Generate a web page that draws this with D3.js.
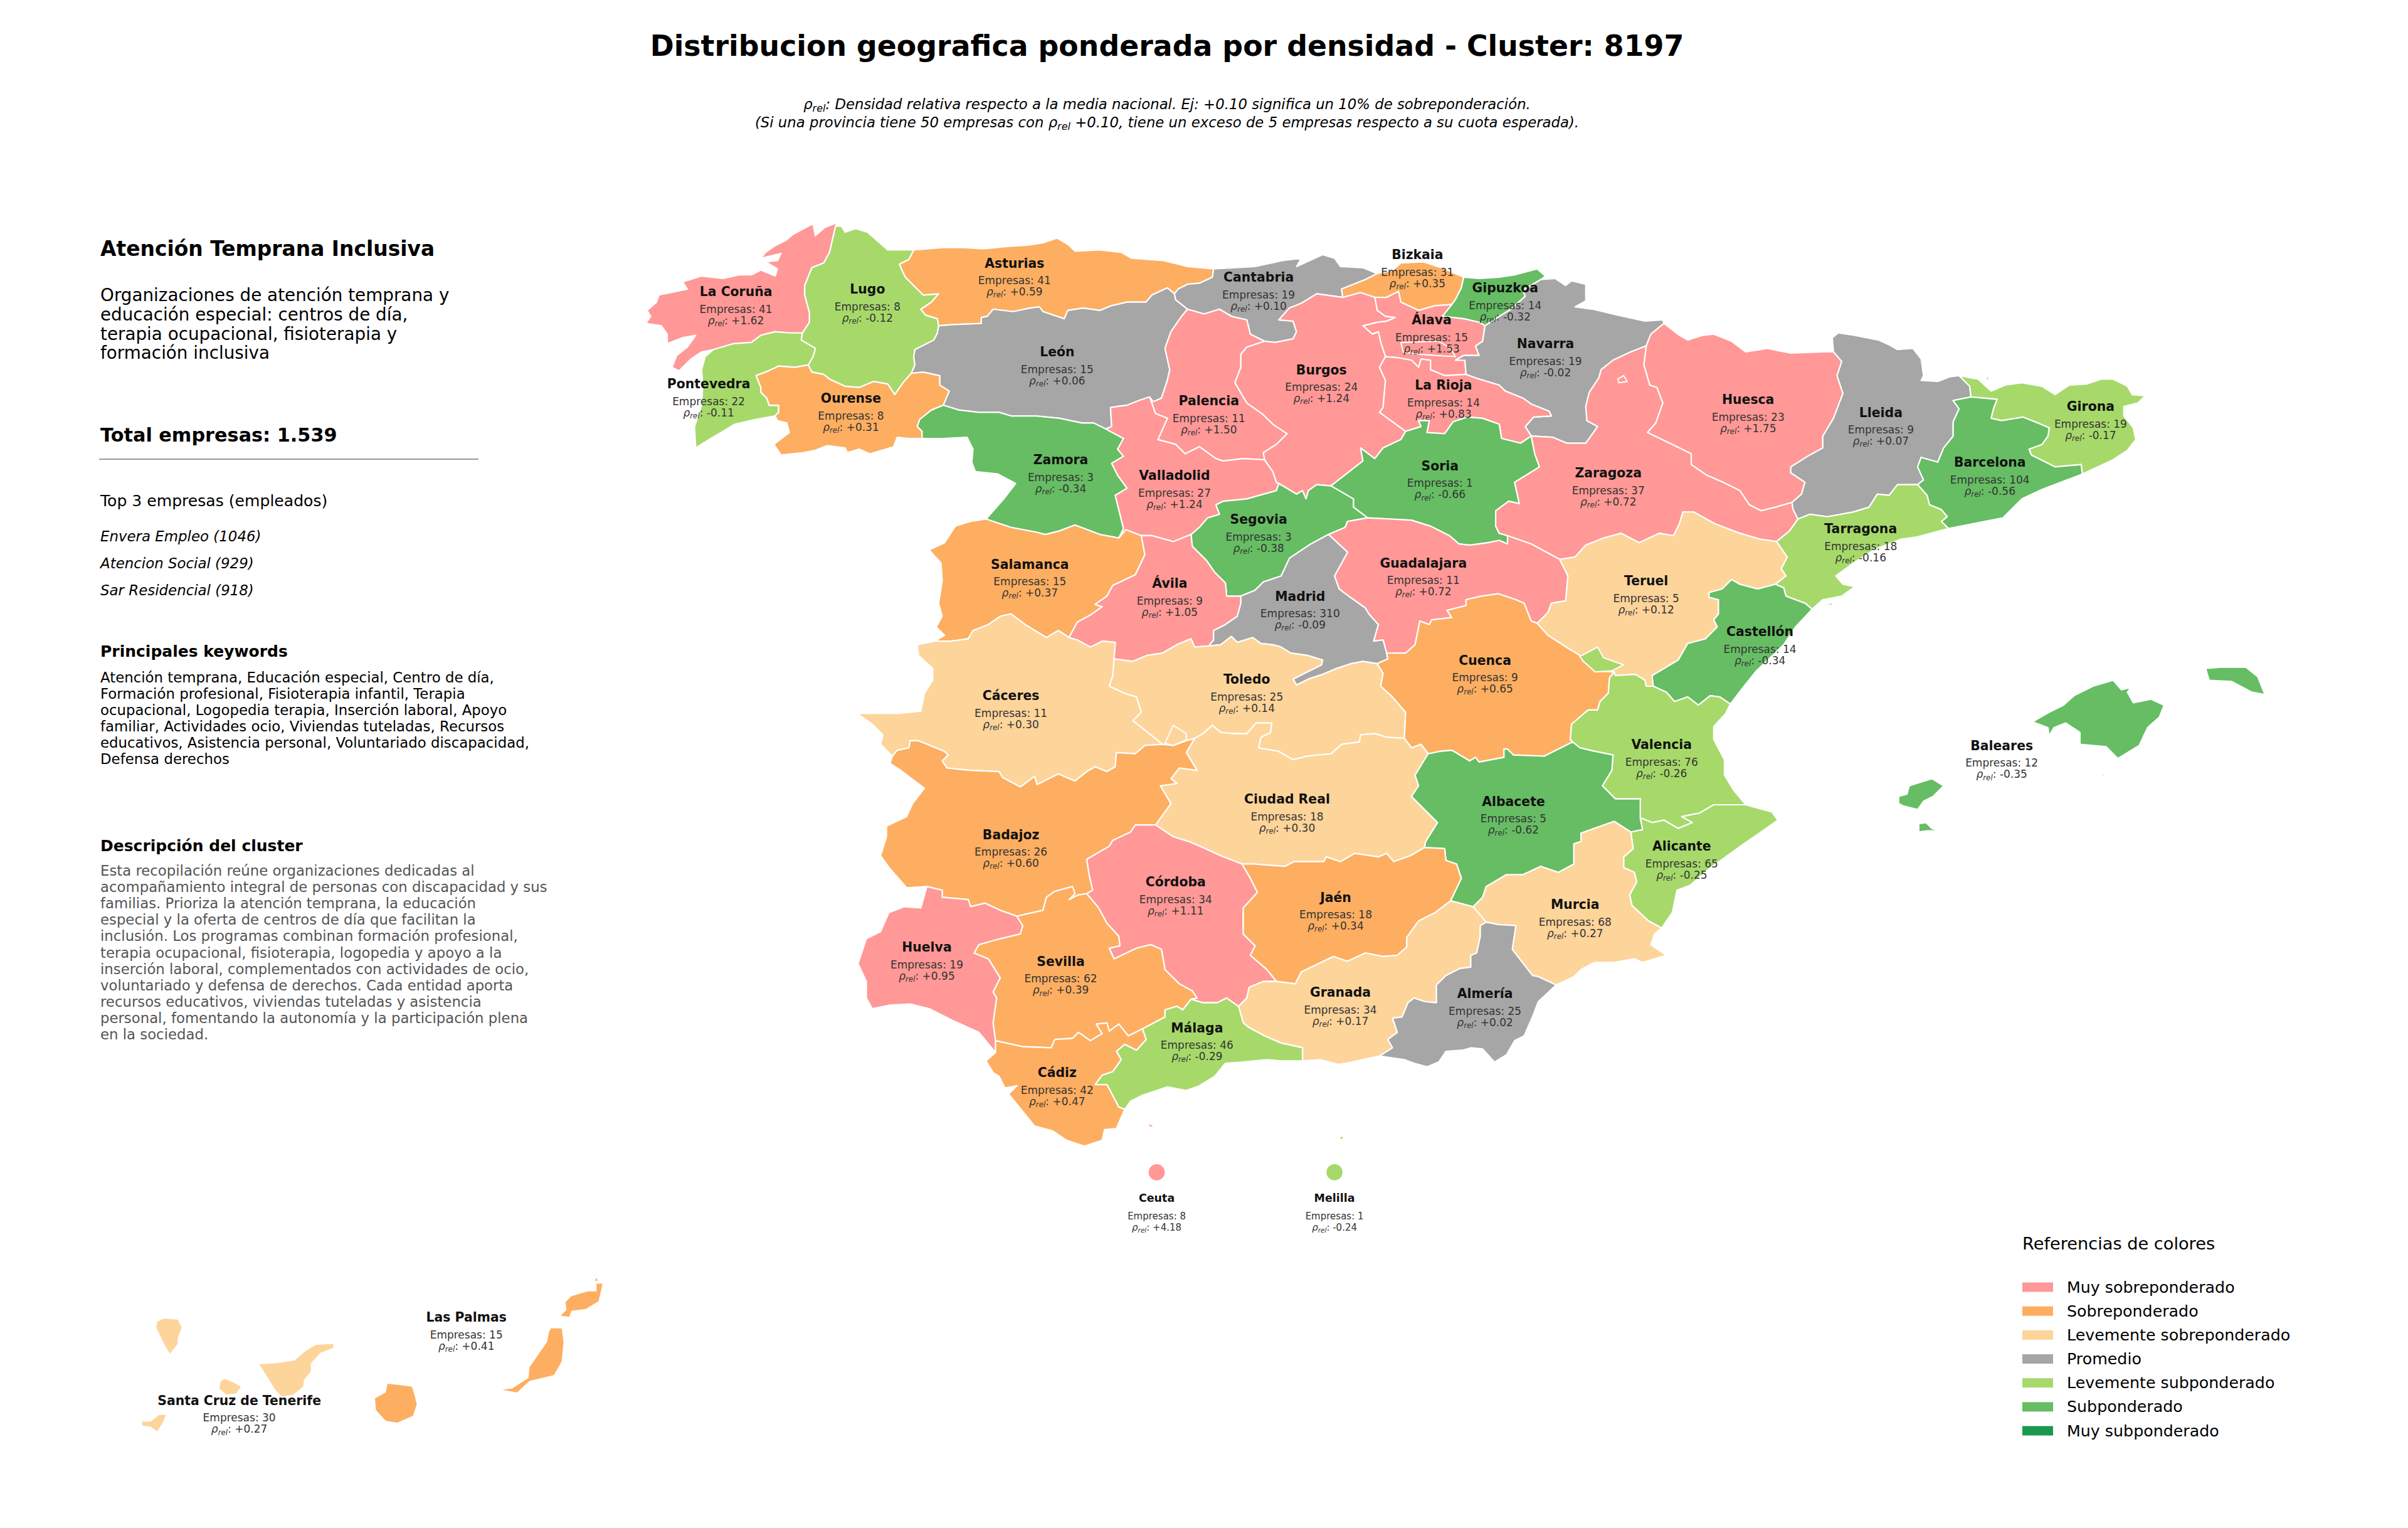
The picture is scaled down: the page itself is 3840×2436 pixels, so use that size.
<!DOCTYPE html>
<html>
<head>
<meta charset="utf-8">
<script src="https://cdnjs.cloudflare.com/ajax/libs/d3/7.8.5/d3.min.js"></script>
<style>
  html, body { margin: 0; padding: 0; background: #fff; }
  text { font-family: "DejaVu Sans", sans-serif; }
</style>
</head>
<body>
<div id="chart"></div>
<script>
// province values
const names = ["La Coruña","Lugo","Asturias","Pontevedra","Ourense","León","Cantabria","Palencia","Zamora","Valladolid","Salamanca","Bizkaia","Gipuzkoa","Álava","Navarra","Burgos","La Rioja","Huesca","Soria","Zaragoza","Segovia","Guadalajara","Teruel","Lleida","Girona","Barcelona","Tarragona","Castellón","Baleares","Ávila","Madrid","Cáceres","Toledo","Cuenca","Valencia","Ciudad Real","Albacete","Badajoz","Alicante","Córdoba","Jaén","Murcia","Huelva","Sevilla","Granada","Almería","Málaga","Cádiz","Ceuta","Melilla","Las Palmas","Santa Cruz de Tenerife"];
const empresas = [41,8,41,22,8,15,19,11,3,27,15,31,14,15,19,24,14,23,1,37,3,11,5,9,19,104,18,14,12,9,310,11,25,9,76,18,5,26,65,34,18,68,19,62,34,25,46,42,8,1,15,30];
const rhoRel = [1.62,-0.12,0.59,-0.11,0.31,0.06,0.10,1.50,-0.34,1.24,0.37,0.35,-0.32,1.53,-0.02,1.24,0.83,1.75,-0.66,0.72,-0.38,0.72,0.12,0.07,-0.17,-0.56,-0.16,-0.34,-0.35,1.05,-0.09,0.30,0.14,0.65,-0.26,0.30,-0.62,0.60,-0.25,1.11,0.34,0.27,0.95,0.39,0.17,0.02,-0.29,0.47,4.18,-0.24,0.41,0.27];

// legend
const legendLabels = ["Muy sobreponderado","Sobreponderado","Levemente sobreponderado","Promedio","Levemente subponderado","Subponderado","Muy subponderado"];
const legendColors = ["#ff9896","#fdae61","#fdd49a","#a6a6a6","#a6d96a","#66bd63","#1a9850"];
const rhoBreaks = [-0.7,-0.3,-0.1,0.105,0.305,0.7];

// side panel
const clusterTitle = "Atención Temprana Inclusiva";
const clusterLead = ["Organizaciones de atención temprana y","educación especial: centros de día,","terapia ocupacional, fisioterapia y","formación inclusiva"];
const totalLine = "Total empresas: 1.539";
const topHeader = "Top 3 empresas (empleados)";
const topEmpresas = ["Envera Empleo (1046)","Atencion Social (929)","Sar Residencial (918)"];
const keywordLines = ["Atención temprana, Educación especial, Centro de día,","Formación profesional, Fisioterapia infantil, Terapia","ocupacional, Logopedia terapia, Inserción laboral, Apoyo","familiar, Actividades ocio, Viviendas tuteladas, Recursos","educativos, Asistencia personal, Voluntariado discapacidad,","Defensa derechos"];
const descLines = ["Esta recopilación reúne organizaciones dedicadas al","acompañamiento integral de personas con discapacidad y sus","familias. Prioriza la atención temprana, la educación","especial y la oferta de centros de día que facilitan la","inclusión. Los programas combinan formación profesional,","terapia ocupacional, fisioterapia, logopedia y apoyo a la","inserción laboral, complementados con actividades de ocio,","voluntariado y defensa de derechos. Cada entidad aporta","recursos educativos, viviendas tuteladas y asistencia","personal, fomentando la autonomía y la participación plena","en la sociedad."];

// borders in lon/lat; each one shared by the provinces on both sides
const arcs = {
  cor_c: [[-7.70,43.76],[-7.685,43.79],[-7.79,43.75],[-7.87,43.68],[-7.89,43.78],[-7.97,43.74],[-8.06,43.69],[-8.12,43.64],[-8.22,43.59],[-8.29,43.54],[-8.33,43.49],[-8.16,43.53],[-8.19,43.47],[-8.29,43.46],[-8.19,43.40],[-8.21,43.34],[-8.33,43.39],[-8.41,43.35],[-8.51,43.35],[-8.65,43.32],[-8.83,43.34],[-8.99,43.29],[-8.95,43.23],[-9.09,43.20],[-9.19,43.18],[-9.21,43.12],[-9.29,43.05],[-9.26,43.00],[-9.30,42.94],[-9.17,42.92],[-9.12,42.85],[-9.12,42.77],[-8.99,42.82],[-8.88,42.84],[-8.95,42.74],[-9.04,42.67],[-9.08,42.57],[-9.02,42.54],[-8.92,42.64],[-8.83,42.70],[-8.73,42.72]],
  cor_lug: [[-7.70,43.76],[-7.75,43.54],[-7.80,43.45],[-7.90,43.41],[-7.96,43.26],[-7.96,43.18],[-7.92,43.03],[-7.92,42.95],[-7.98,42.86]],
  cor_pon: [[-7.98,42.86],[-8.09,42.86],[-8.21,42.87],[-8.33,42.84],[-8.41,42.78],[-8.56,42.77],[-8.73,42.72]],
  pon_lug: [[-7.98,42.86],[-7.99,42.80],[-7.87,42.73],[-7.89,42.66],[-7.93,42.59]],
  pon_our: [[-7.93,42.59],[-8.04,42.57],[-8.18,42.58],[-8.29,42.53],[-8.37,42.50],[-8.33,42.40],[-8.33,42.36],[-8.28,42.31],[-8.26,42.25],[-8.18,42.25],[-8.18,42.19],[-8.21,42.16]],
  pon_c: [[-8.21,42.16],[-8.38,42.13],[-8.55,42.09],[-8.65,42.03],[-8.77,41.96],[-8.88,41.89],[-8.89,42.07],[-8.83,42.25],[-8.82,42.42],[-8.83,42.55],[-8.80,42.66],[-8.73,42.72]],
  lug_c: [[-7.70,43.76],[-7.65,43.76],[-7.62,43.71],[-7.53,43.74],[-7.43,43.71],[-7.35,43.64],[-7.26,43.56],[-7.04,43.56]],
  lug_ast: [[-7.04,43.56],[-7.08,43.48],[-7.16,43.44],[-7.14,43.39],[-7.11,43.33],[-7.04,43.26],[-6.96,43.18],[-6.83,43.19],[-6.89,43.12],[-6.98,43.06],[-6.94,43.01],[-6.84,42.98],[-6.83,42.92]],
  lug_leo: [[-6.83,42.92],[-6.84,42.86],[-6.87,42.80],[-7.03,42.72],[-7.04,42.66],[-7.03,42.59],[-7.06,42.52]],
  lug_our: [[-7.06,42.52],[-7.13,42.44],[-7.20,42.34],[-7.26,42.43],[-7.38,42.45],[-7.50,42.40],[-7.62,42.41],[-7.75,42.47],[-7.80,42.51],[-7.90,42.53],[-7.93,42.59]],
  leo_our: [[-7.06,42.52],[-6.96,42.53],[-6.82,42.50],[-6.82,42.42],[-6.74,42.37],[-6.79,42.25]],
  our_zam: [[-6.79,42.25],[-6.89,42.21],[-6.99,42.13],[-7.01,42.07],[-6.97,42.03],[-6.97,41.97]],
  our_s: [[-6.97,41.97],[-7.08,41.97],[-7.18,41.98],[-7.21,41.90],[-7.41,41.84],[-7.50,41.88],[-7.60,41.85],[-7.62,41.89],[-7.77,41.91],[-7.87,41.87],[-7.97,41.85],[-8.16,41.83],[-8.22,41.92],[-8.09,42.02],[-8.11,42.10],[-8.19,42.12],[-8.21,42.16]],
  leo_zam: [[-6.79,42.25],[-6.66,42.21],[-6.49,42.19],[-6.32,42.19],[-6.22,42.16],[-6.01,42.16],[-5.81,42.14],[-5.62,42.10],[-5.52,42.10],[-5.42,42.05]],
  leo_val: [[-5.42,42.05],[-5.37,42.07],[-5.38,42.23],[-5.32,42.24],[-5.24,42.25],[-5.14,42.29],[-5.05,42.32]],
  leo_pal: [[-5.05,42.32],[-5.02,42.28],[-4.95,42.31],[-4.90,42.46],[-4.88,42.55],[-4.92,42.73],[-4.87,42.87],[-4.78,43.00],[-4.73,43.06]],
  leo_can: [[-4.73,43.06],[-4.83,43.14],[-4.84,43.19]],
  ast_leo: [[-4.84,43.19],[-4.90,43.24],[-5.03,43.18],[-5.08,43.12],[-5.24,43.12],[-5.37,43.09],[-5.47,43.05],[-5.61,43.07],[-5.74,43.05],[-5.77,42.98],[-5.95,43.04],[-5.98,43.08],[-6.06,43.07],[-6.20,43.04],[-6.37,43.06],[-6.42,43.00],[-6.47,42.99],[-6.47,42.94],[-6.72,42.93],[-6.83,42.92]],
  ast_c: [[-7.04,43.56],[-6.79,43.58],[-6.62,43.58],[-6.45,43.57],[-6.25,43.59],[-6.08,43.60],[-5.95,43.62],[-5.83,43.66],[-5.73,43.60],[-5.68,43.55],[-5.47,43.56],[-5.29,43.54],[-5.20,43.49],[-4.93,43.47],[-4.73,43.42],[-4.51,43.40]],
  ast_can: [[-4.51,43.40],[-4.52,43.33],[-4.63,43.28],[-4.73,43.27],[-4.81,43.23],[-4.84,43.19]],
  zam_val: [[-5.42,42.05],[-5.27,41.97],[-5.32,41.88],[-5.27,41.82],[-5.37,41.76],[-5.32,41.66],[-5.24,41.55],[-5.34,41.49],[-5.27,41.21],[-5.31,41.13]],
  zam_sal: [[-5.31,41.13],[-5.47,41.16],[-5.68,41.24],[-5.81,41.19],[-5.93,41.16],[-6.01,41.18],[-6.22,41.22],[-6.43,41.29]],
  zam_w: [[-6.43,41.29],[-6.28,41.46],[-6.18,41.59],[-6.33,41.67],[-6.52,41.69],[-6.55,41.77],[-6.54,41.88],[-6.59,41.98],[-6.79,41.97],[-6.97,41.97]],
  sal_w: [[-6.43,41.29],[-6.56,41.27],[-6.69,41.23],[-6.78,41.09],[-6.91,41.03],[-6.81,40.92],[-6.80,40.77],[-6.83,40.58],[-6.80,40.47],[-6.85,40.38],[-6.78,40.31],[-6.86,40.26]],
  sal_cac: [[-6.86,40.26],[-6.73,40.26],[-6.58,40.28],[-6.54,40.35],[-6.41,40.40],[-6.31,40.47],[-6.22,40.49],[-6.10,40.40],[-5.92,40.29],[-5.82,40.35],[-5.73,40.29]],
  sal_avi: [[-5.73,40.29],[-5.66,40.42],[-5.55,40.48],[-5.45,40.55],[-5.51,40.57],[-5.41,40.64],[-5.36,40.73],[-5.17,40.82],[-5.09,40.99],[-5.12,41.15]],
  sal_val: [[-5.12,41.15],[-5.25,41.20],[-5.31,41.13]],
  avi_val: [[-5.12,41.15],[-5.03,41.15],[-4.85,41.10],[-4.70,41.16]],
  avi_seg: [[-4.70,41.16],[-4.69,41.06],[-4.57,40.94],[-4.50,40.84],[-4.41,40.75],[-4.40,40.64],[-4.28,40.64]],
  avi_mad: [[-4.28,40.64],[-4.28,40.58],[-4.31,40.47],[-4.41,40.40],[-4.51,40.35],[-4.51,40.27],[-4.55,40.22]],
  avi_tol: [[-4.55,40.22],[-4.67,40.21],[-4.70,40.28],[-4.82,40.23],[-4.94,40.16],[-5.07,40.14],[-5.19,40.09],[-5.35,40.11]],
  avi_cac: [[-5.35,40.11],[-5.34,40.25],[-5.45,40.26],[-5.55,40.21],[-5.66,40.27],[-5.73,40.29]],
  cac_w: [[-7.22,39.29],[-7.32,39.39],[-7.30,39.47],[-7.39,39.56],[-7.52,39.65],[-7.17,39.65],[-6.98,39.67],[-6.95,39.82],[-6.88,39.93],[-6.88,40.03],[-7.00,40.14],[-7.01,40.23],[-6.86,40.26]],
  cac_bad: [[-7.22,39.29],[-7.18,39.34],[-7.08,39.36],[-7.07,39.42],[-7.00,39.42],[-6.78,39.33],[-6.75,39.30],[-6.80,39.25],[-6.76,39.19],[-6.56,39.17],[-6.32,39.16],[-6.29,39.11],[-6.14,39.03],[-6.02,39.12],[-6.00,39.05],[-5.82,39.14],[-5.68,39.08],[-5.58,39.16],[-5.51,39.20],[-5.41,39.16],[-5.34,39.20],[-5.33,39.32],[-5.17,39.31],[-5.09,39.38],[-4.94,39.39]],
  cac_tol: [[-5.35,40.11],[-5.36,39.97],[-5.39,39.88],[-5.26,39.82],[-5.16,39.79],[-5.12,39.66],[-5.19,39.59],[-5.04,39.47],[-4.94,39.39]],
  tol_bad: [[-4.94,39.39],[-4.85,39.38],[-4.74,39.42],[-4.67,39.44]],
  tol_cr: [[-4.67,39.44],[-4.60,39.48],[-4.52,39.55],[-4.45,39.49],[-4.33,39.48],[-4.23,39.48],[-4.15,39.57],[-4.02,39.57],[-4.03,39.49],[-4.11,39.45],[-4.13,39.36],[-3.96,39.33],[-3.84,39.26],[-3.72,39.29],[-3.52,39.31],[-3.43,39.39],[-3.28,39.41],[-3.27,39.47],[-3.15,39.48],[-3.05,39.45],[-2.90,39.44]],
  tol_cue: [[-2.90,39.44],[-2.89,39.66],[-3.01,39.80],[-3.10,39.88],[-3.08,39.99],[-3.13,40.07]],
  mad_tol: [[-4.55,40.22],[-4.45,40.23],[-4.36,40.30],[-4.31,40.25],[-4.18,40.29],[-4.11,40.24],[-4.01,40.23],[-3.94,40.21],[-3.86,40.16],[-3.72,40.14],[-3.59,40.10],[-3.60,40.06],[-3.72,40.00],[-3.84,39.94],[-3.81,39.89],[-3.71,39.94],[-3.59,39.98],[-3.47,40.03],[-3.35,40.07],[-3.25,40.09],[-3.13,40.07]],
  mad_cue: [[-3.13,40.07],[-3.04,40.11],[-3.05,40.16]],
  mad_gua: [[-3.05,40.16],[-3.08,40.27],[-3.16,40.26],[-3.12,40.40],[-3.20,40.49],[-3.23,40.54],[-3.37,40.64],[-3.45,40.70],[-3.49,40.81],[-3.38,41.01],[-3.54,41.16]],
  mad_seg: [[-3.54,41.16],[-3.69,41.08],[-3.87,40.96],[-3.94,40.81],[-4.09,40.76],[-4.16,40.69],[-4.28,40.64]],
  seg_gua: [[-3.54,41.16],[-3.40,41.22],[-3.38,41.27],[-3.21,41.30]],
  seg_sor: [[-3.21,41.30],[-3.33,41.39],[-3.33,41.46],[-3.52,41.57]],
  seg_bur: [[-3.52,41.57],[-3.64,41.58],[-3.71,41.53],[-3.73,41.46],[-3.76,41.53],[-3.81,41.50],[-3.96,41.59]],
  seg_val: [[-3.96,41.59],[-3.98,41.53],[-4.23,41.46],[-4.43,41.44],[-4.49,41.41],[-4.46,41.33],[-4.56,41.30],[-4.63,41.22],[-4.70,41.16]],
  val_pal: [[-5.05,42.32],[-5.00,42.18],[-4.90,42.14],[-4.98,41.96],[-4.83,41.92],[-4.75,41.84],[-4.63,41.90],[-4.49,41.80],[-4.43,41.78],[-4.26,41.80],[-4.08,41.79]],
  val_bur: [[-4.08,41.79],[-4.01,41.69],[-3.98,41.60],[-3.96,41.59]],
  pal_can: [[-4.73,43.06],[-4.59,43.02],[-4.46,43.06],[-4.36,43.00],[-4.23,42.97],[-4.20,42.85],[-4.08,42.79]],
  pal_bur: [[-4.08,42.79],[-4.23,42.74],[-4.28,42.68],[-4.28,42.57],[-4.33,42.44],[-4.23,42.27],[-4.09,42.17],[-4.01,42.09],[-3.89,42.01],[-3.98,41.92],[-4.09,41.85],[-4.08,41.79]],
  can_bur: [[-4.08,42.79],[-3.99,42.78],[-3.84,42.81],[-3.81,42.87],[-3.84,42.96],[-3.96,42.97],[-3.87,43.07],[-3.77,43.11],[-3.64,43.19],[-3.42,43.16]],
  can_c: [[-4.51,43.40],[-4.16,43.42],[-3.93,43.47],[-3.77,43.49],[-3.81,43.42],[-3.59,43.52],[-3.49,43.49],[-3.44,43.42],[-3.25,43.41],[-3.13,43.36]],
  can_biz: [[-3.42,43.16],[-3.43,43.23],[-3.23,43.31],[-3.13,43.36]],
  biz_c: [[-3.13,43.36],[-3.00,43.39],[-2.93,43.45],[-2.74,43.46],[-2.56,43.40],[-2.40,43.33]],
  biz_gip: [[-2.40,43.33],[-2.42,43.24],[-2.47,43.14],[-2.50,43.10]],
  biz_ala: [[-2.50,43.10],[-2.64,43.09],[-2.78,43.05],[-2.93,43.12],[-2.95,43.21],[-3.05,43.16],[-3.15,43.16]],
  bur_biz: [[-3.15,43.16],[-3.27,43.20],[-3.42,43.16]],
  gip_c: [[-2.40,43.33],[-2.27,43.32],[-2.10,43.33],[-1.97,43.35],[-1.78,43.40],[-1.71,43.34],[-1.75,43.31]],
  gip_nav: [[-1.75,43.31],[-1.90,43.22],[-1.88,43.17],[-2.00,43.06],[-2.10,43.00],[-2.22,42.92]],
  gip_ala: [[-2.50,43.10],[-2.58,43.00],[-2.40,42.98],[-2.27,42.95],[-2.22,42.92]],
  nav_n: [[-1.75,43.31],[-1.63,43.32],[-1.54,43.26],[-1.49,43.30],[-1.37,43.27],[-1.37,43.13],[-1.46,43.08],[-1.32,43.06],[-1.27,43.12],[-1.31,43.06],[-1.10,43.01],[-0.87,42.96],[-0.72,42.97],[-0.71,42.94]],
  nav_hue: [[-0.71,42.94],[-0.82,42.85],[-0.86,42.75]],
  nav_zar: [[-0.86,42.75],[-0.99,42.70],[-1.14,42.63],[-1.24,42.55],[-1.26,42.48],[-1.34,42.36],[-1.37,42.24],[-1.36,42.12],[-1.27,42.07],[-1.37,41.93],[-1.53,41.93],[-1.65,41.98],[-1.83,41.99]],
  nav_rio: [[-1.83,41.99],[-1.88,42.07],[-1.81,42.15],[-1.66,42.16],[-1.68,42.20],[-1.83,42.26],[-1.90,42.31],[-2.05,42.37],[-2.10,42.42],[-2.30,42.48],[-2.38,42.51]],
  ala_nav: [[-2.38,42.51],[-2.39,42.63],[-2.47,42.63],[-2.40,42.67],[-2.27,42.67],[-2.30,42.75],[-2.24,42.79],[-2.22,42.92]],
  ala_rio: [[-2.38,42.51],[-2.56,42.50],[-2.68,42.55],[-2.68,42.63],[-2.76,42.64],[-2.78,42.57],[-2.84,42.63],[-2.95,42.65],[-3.06,42.66]],
  bur_ala: [[-3.15,43.16],[-3.13,43.05],[-3.06,43.00],[-2.98,42.99],[-3.05,42.96],[-3.13,42.95],[-3.25,42.92],[-3.17,42.85],[-3.12,42.87],[-3.10,42.78],[-3.06,42.66]],
  bur_rio: [[-3.06,42.66],[-3.11,42.57],[-3.06,42.46],[-3.08,42.23],[-3.11,42.19],[-2.89,42.03]],
  bur_sor: [[-2.89,42.03],[-2.93,41.96],[-3.08,41.89],[-3.15,41.80],[-3.27,41.89],[-3.25,41.78],[-3.52,41.57]],
  rio_sor: [[-2.89,42.03],[-2.76,42.07],[-2.78,42.12],[-2.69,42.12],[-2.71,42.02],[-2.56,42.01],[-2.49,42.11],[-2.37,42.15],[-2.24,42.14],[-2.10,42.09],[-2.08,41.97],[-1.92,41.93],[-1.83,41.99]],
  sor_zar: [[-1.83,41.99],[-1.80,41.84],[-1.76,41.73],[-1.97,41.60],[-1.93,41.42],[-2.02,41.44],[-2.13,41.36],[-2.13,41.23],[-2.10,41.17],[-2.03,41.15]],
  sor_gua: [[-2.03,41.15],[-2.03,41.08],[-2.10,41.11],[-2.20,41.09],[-2.35,41.07],[-2.44,41.08],[-2.52,41.15],[-2.68,41.23],[-2.84,41.28],[-3.01,41.29],[-3.21,41.30]],
  gua_zar: [[-2.03,41.15],[-1.83,41.08],[-1.59,40.95]],
  gua_ter: [[-1.59,40.95],[-1.52,40.81],[-1.54,40.60],[-1.66,40.58],[-1.69,40.50],[-1.78,40.41]],
  gua_cue: [[-3.05,40.16],[-2.89,40.16],[-2.81,40.23],[-2.77,40.43],[-2.69,40.40],[-2.67,40.44],[-2.50,40.46],[-2.54,40.52],[-2.38,40.56],[-2.38,40.61],[-2.25,40.64],[-2.11,40.66],[-1.96,40.61],[-1.89,40.58],[-1.83,40.43],[-1.78,40.41]],
  ter_zar: [[-1.59,40.95],[-1.46,40.97],[-1.37,41.07],[-1.22,41.13],[-1.07,41.17],[-0.92,41.09],[-0.75,41.17],[-0.63,41.15],[-0.58,41.25],[-0.55,41.35],[-0.46,41.35],[-0.28,41.25],[-0.07,41.17],[0.10,41.12],[0.24,41.10]],
  zar_tar: [[0.24,41.10],[0.35,41.19],[0.42,41.29]],
  zar_lle: [[0.42,41.29],[0.38,41.37],[0.37,41.43]],
  hue_zar: [[0.37,41.43],[0.23,41.39],[0.11,41.36],[0.01,41.41],[-0.07,41.53],[-0.21,41.60],[-0.35,41.66],[-0.48,41.75],[-0.48,41.84],[-0.60,41.90],[-0.85,42.02],[-0.78,42.10],[-0.72,42.27],[-0.77,42.40],[-0.83,42.42],[-0.88,42.59],[-0.86,42.75]],
  hue_n: [[-0.71,42.94],[-0.58,42.84],[-0.51,42.80],[-0.38,42.84],[-0.29,42.85],[-0.14,42.79],[-0.02,42.70],[0.16,42.73],[0.36,42.69],[0.64,42.70],[0.72,42.70]],
  hue_lle: [[0.72,42.70],[0.79,42.62],[0.75,42.50],[0.80,42.35],[0.72,42.14],[0.63,41.99],[0.63,41.89],[0.52,41.83],[0.36,41.73],[0.36,41.68],[0.48,41.60],[0.45,41.50],[0.37,41.43]],
  lle_n: [[0.72,42.70],[0.71,42.82],[0.76,42.86],[0.90,42.84],[1.10,42.80],[1.19,42.76],[1.26,42.72],[1.39,42.73],[1.46,42.64],[1.48,42.50],[1.46,42.46],[1.60,42.45],[1.70,42.49],[1.78,42.50]],
  lle_gir: [[1.78,42.50],[1.87,42.41],[1.88,42.32]],
  lle_bar: [[1.88,42.32],[1.73,42.29],[1.78,42.22],[1.73,42.11],[1.73,41.99],[1.65,41.89],[1.60,41.77],[1.46,41.81],[1.43,41.73],[1.48,41.62],[1.43,41.58]],
  lle_tar: [[1.43,41.58],[1.26,41.58],[1.19,41.49],[1.09,41.50],[1.02,41.39],[0.89,41.35],[0.67,41.31],[0.52,41.33],[0.42,41.29]],
  gir_c: [[1.78,42.50],[1.94,42.47],[2.05,42.37],[2.17,42.42],[2.31,42.44],[2.48,42.41],[2.59,42.34],[2.71,42.42],[2.86,42.43],[2.98,42.47],[3.08,42.47],[3.20,42.41],[3.24,42.34],[3.35,42.33],[3.29,42.27],[3.17,42.24],[3.17,42.16],[3.25,42.06],[3.27,41.96],[3.20,41.87],[3.08,41.79],[2.95,41.73],[2.82,41.67]],
  gir_bar: [[1.88,42.32],[2.10,42.30],[2.07,42.22],[2.05,42.14],[2.14,42.12],[2.32,42.15],[2.42,42.11],[2.54,42.06],[2.53,41.99],[2.48,41.92],[2.37,41.88],[2.39,41.83],[2.59,41.73],[2.81,41.75],[2.82,41.67]],
  bar_c: [[2.82,41.67],[2.48,41.54],[2.31,41.46],[2.15,41.30],[1.69,41.21]],
  bar_tar: [[1.69,41.21],[1.63,41.27],[1.68,41.31],[1.63,41.37],[1.53,41.41],[1.51,41.49],[1.43,41.58]],
  tar_c: [[1.69,41.21],[1.43,41.14],[1.29,41.12],[1.06,41.03],[0.89,40.92],[0.74,40.81],[0.80,40.74],[0.90,40.72],[0.79,40.64],[0.63,40.61],[0.54,40.53]],
  ter_tar: [[0.24,41.10],[0.33,40.97],[0.28,40.87],[0.32,40.81],[0.23,40.74]],
  tar_cas: [[0.23,40.74],[0.30,40.71],[0.32,40.64],[0.48,40.58],[0.54,40.53]],
  cas_c: [[0.54,40.53],[0.40,40.38],[0.30,40.23],[0.07,40.01],[-0.05,39.86],[-0.15,39.73]],
  ter_cas: [[0.23,40.74],[0.08,40.70],[-0.07,40.74],[-0.14,40.78],[-0.22,40.70],[-0.33,40.67],[-0.33,40.63],[-0.25,40.61],[-0.25,40.49],[-0.29,40.44],[-0.26,40.38],[-0.36,40.28],[-0.51,40.24],[-0.59,40.10],[-0.81,39.97],[-0.80,39.88]],
  cas_val: [[-0.80,39.88],[-0.69,39.83],[-0.62,39.75],[-0.51,39.79],[-0.42,39.72],[-0.32,39.80],[-0.24,39.79],[-0.15,39.73]],
  ter_val: [[-1.13,40.00],[-1.12,39.97],[-0.95,39.98],[-0.87,39.93],[-0.86,39.88],[-0.80,39.88]],
  cue_ter: [[-1.78,40.41],[-1.69,40.31],[-1.52,40.20],[-1.42,40.14],[-1.39,40.09],[-1.29,40.01],[-1.13,40.00]],
  cue_val: [[-1.13,40.00],[-1.17,39.95],[-1.18,39.82],[-1.25,39.75],[-1.27,39.68],[-1.35,39.68],[-1.49,39.56],[-1.50,39.43],[-1.48,39.41]],
  cue_alb: [[-1.48,39.41],[-1.72,39.29],[-1.98,39.30],[-2.03,39.35],[-2.06,39.35],[-2.06,39.28],[-2.27,39.24],[-2.30,39.28],[-2.35,39.25],[-2.50,39.34],[-2.60,39.33],[-2.70,39.31]],
  cr_cue: [[-2.90,39.44],[-2.84,39.36],[-2.76,39.39],[-2.70,39.31]],
  cr_alb: [[-2.70,39.31],[-2.81,39.13],[-2.78,39.04],[-2.84,38.95],[-2.62,38.73],[-2.72,38.57],[-2.73,38.52]],
  cr_jae: [[-2.73,38.52],[-2.85,38.45],[-2.99,38.40],[-3.05,38.47],[-3.12,38.44],[-3.32,38.47],[-3.44,38.40],[-3.56,38.44],[-3.58,38.40],[-3.83,38.40],[-3.91,38.36],[-4.17,38.38],[-4.27,38.38]],
  cr_cor: [[-4.27,38.38],[-4.45,38.45],[-4.58,38.51],[-4.72,38.57],[-4.85,38.61],[-5.00,38.71]],
  bad_cr: [[-5.00,38.71],[-4.87,38.89],[-4.96,39.04],[-4.82,39.06],[-4.87,39.10],[-4.80,39.19],[-4.65,39.17],[-4.74,39.32],[-4.67,39.44]],
  bad_w: [[-7.22,39.29],[-7.24,39.23],[-7.15,39.17],[-6.95,39.02],[-7.05,38.89],[-7.10,38.78],[-7.27,38.70],[-7.27,38.61],[-7.32,38.45],[-7.24,38.34],[-7.10,38.18],[-6.93,38.19]],
  bad_hue: [[-6.93,38.19],[-6.80,38.16],[-6.80,38.10],[-6.58,38.08],[-6.56,38.02],[-6.44,38.05],[-6.31,37.99],[-6.17,37.94]],
  bad_sev: [[-6.17,37.94],[-5.95,37.99],[-5.92,38.10],[-5.85,38.15],[-5.70,38.19],[-5.68,38.13],[-5.73,38.08],[-5.65,38.12],[-5.58,38.13]],
  bad_cor: [[-5.58,38.13],[-5.53,38.16],[-5.56,38.29],[-5.58,38.42],[-5.39,38.53],[-5.36,38.58],[-5.21,38.65],[-5.17,38.71],[-5.00,38.71]],
  hue_c: [[-6.93,38.19],[-6.98,38.01],[-7.12,38.02],[-7.25,37.97],[-7.32,37.81],[-7.44,37.75],[-7.51,37.54],[-7.44,37.39],[-7.44,37.25],[-7.39,37.16],[-7.24,37.19],[-7.07,37.20],[-6.91,37.16],[-6.71,37.06],[-6.49,36.96],[-6.35,36.79]],
  hue_sev: [[-6.17,37.94],[-6.12,37.86],[-6.14,37.79],[-6.31,37.75],[-6.49,37.70],[-6.53,37.63],[-6.41,37.58],[-6.31,37.42],[-6.37,37.30],[-6.34,37.25],[-6.37,37.04],[-6.35,36.89]],
  hue_cad: [[-6.35,36.89],[-6.35,36.79]],
  sev_cad: [[-6.35,36.89],[-6.12,36.84],[-5.88,36.83],[-5.85,36.90],[-5.70,36.91],[-5.65,36.96],[-5.55,36.89],[-5.45,36.95],[-5.50,37.03],[-5.41,37.04],[-5.39,36.97],[-5.31,37.03],[-5.23,36.93],[-5.11,36.99]],
  sev_mal: [[-5.11,36.99],[-4.92,37.09],[-4.92,37.15],[-4.82,37.18],[-4.77,37.15],[-4.70,37.24]],
  sev_cor: [[-5.58,38.13],[-5.48,38.01],[-5.41,37.88],[-5.31,37.77],[-5.30,37.69],[-5.39,37.67],[-5.35,37.58],[-5.16,37.67],[-5.04,37.70],[-4.95,37.66],[-4.92,37.49],[-4.80,37.37],[-4.69,37.31],[-4.65,37.25],[-4.70,37.24]],
  cor_mal: [[-4.70,37.24],[-4.60,37.21],[-4.48,37.21],[-4.40,37.25],[-4.30,37.18]],
  cor_gra: [[-4.30,37.18],[-4.23,37.25],[-4.21,37.34],[-4.09,37.39],[-3.98,37.39]],
  cor_jae: [[-3.98,37.39],[-4.06,37.49],[-4.20,37.61],[-4.16,37.69],[-4.26,37.79],[-4.26,38.01],[-4.14,38.14],[-4.20,38.26],[-4.27,38.38]],
  jae_gra: [[-3.98,37.39],[-3.82,37.37],[-3.77,37.47],[-3.50,37.60],[-3.38,37.56],[-3.23,37.63],[-3.08,37.60],[-2.96,37.61],[-2.88,37.68],[-2.88,37.76],[-2.78,37.90],[-2.64,37.97],[-2.51,38.07]],
  jae_alb: [[-2.51,38.07],[-2.42,38.26],[-2.46,38.38],[-2.55,38.41],[-2.56,38.51],[-2.73,38.52]],
  alb_gra: [[-2.51,38.07],[-2.32,38.02]],
  alb_mur: [[-2.32,38.02],[-2.24,38.10],[-2.21,38.19],[-2.04,38.29],[-1.90,38.29],[-1.75,38.36],[-1.60,38.31],[-1.47,38.38],[-1.47,38.55],[-1.41,38.57],[-1.41,38.64],[-1.30,38.68],[-1.13,38.74],[-0.99,38.65]],
  ali_alb: [[-0.99,38.65],[-0.89,38.67],[-0.91,38.77]],
  val_alb: [[-1.48,39.41],[-1.42,39.36],[-1.29,39.33],[-1.14,39.30],[-1.15,39.17],[-1.23,39.04],[-1.12,38.93],[-0.91,38.93],[-0.91,38.77]],
  val_ali: [[-0.91,38.77],[-0.81,38.73],[-0.71,38.75],[-0.59,38.68],[-0.47,38.73],[-0.56,38.78],[-0.41,38.81],[-0.29,38.88],[-0.12,38.88],[-0.02,38.88]],
  val_c: [[-0.02,38.88],[-0.12,39.00],[-0.20,39.13],[-0.20,39.26],[-0.29,39.43],[-0.29,39.54],[-0.19,39.65],[-0.15,39.73]],
  ali_c: [[-0.02,38.88],[0.20,38.82],[0.25,38.75],[-0.05,38.54],[-0.33,38.34],[-0.49,38.20],[-0.60,38.16],[-0.64,37.97],[-0.73,37.84]],
  ali_mur: [[-0.73,37.84],[-0.84,37.90],[-0.98,38.03],[-1.00,38.12],[-0.94,38.23],[-0.96,38.31],[-1.05,38.35],[-1.05,38.44],[-0.97,38.51],[-0.99,38.65]],
  mur_c: [[-0.73,37.84],[-0.79,37.79],[-0.82,37.70],[-0.69,37.61],[-0.89,37.55],[-0.96,37.58],[-1.13,37.55],[-1.30,37.55],[-1.41,37.49],[-1.47,37.43],[-1.62,37.36]],
  mur_alm: [[-1.62,37.36],[-1.77,37.43],[-1.82,37.44],[-1.99,37.66],[-1.96,37.86],[-2.11,37.87],[-2.21,37.89]],
  gra_mur: [[-2.21,37.89],[-2.32,38.02]],
  gra_alm: [[-2.21,37.89],[-2.26,37.86],[-2.26,37.77],[-2.29,37.63],[-2.34,37.61],[-2.34,37.51],[-2.43,37.50],[-2.55,37.44],[-2.63,37.36],[-2.63,37.21],[-2.73,37.22],[-2.82,37.25],[-2.87,37.21],[-2.92,37.09],[-3.00,37.08],[-2.96,36.96],[-3.04,36.90],[-3.00,36.83],[-3.11,36.76]],
  alm_c: [[-1.62,37.36],[-1.77,37.22],[-1.82,37.09],[-1.89,36.93],[-1.97,36.89],[-2.04,36.77],[-2.14,36.71],[-2.24,36.82],[-2.34,36.83],[-2.41,36.81],[-2.55,36.80],[-2.61,36.71],[-2.71,36.67],[-2.82,36.70],[-2.90,36.73],[-3.11,36.76]],
  gra_c: [[-3.11,36.76],[-3.39,36.70],[-3.46,36.69],[-3.61,36.73],[-3.76,36.72]],
  mal_gra: [[-3.76,36.72],[-3.76,36.83],[-3.94,36.87],[-4.08,36.93],[-4.21,37.00],[-4.26,37.04],[-4.30,37.18]],
  mal_c: [[-3.76,36.72],[-3.94,36.72],[-4.06,36.73],[-4.26,36.71],[-4.41,36.70],[-4.50,36.59],[-4.63,36.51],[-4.74,36.47],[-4.90,36.50],[-5.11,36.43],[-5.21,36.38],[-5.26,36.31]],
  mal_cad: [[-5.11,36.99],[-5.08,36.90],[-5.16,36.81],[-5.26,36.86],[-5.33,36.80],[-5.29,36.73],[-5.36,36.63],[-5.45,36.60],[-5.51,36.52],[-5.41,36.52],[-5.31,36.33],[-5.26,36.31]],
  cad_c: [[-5.26,36.31],[-5.33,36.15],[-5.43,36.14],[-5.45,36.05],[-5.60,36.00],[-5.75,36.05],[-5.87,36.13],[-6.02,36.17],[-6.15,36.33],[-6.24,36.44],[-6.17,36.51],[-6.27,36.49],[-6.32,36.59],[-6.37,36.62],[-6.43,36.72],[-6.35,36.79]]
};

// which borders close each province, in ring order
const rings = {
  "La Coruña":["cor_c","cor_pon","cor_lug"],
  "Lugo":["lug_c","lug_ast","lug_leo","lug_our","pon_lug","cor_lug"],
  "Asturias":["ast_c","ast_can","ast_leo","lug_ast"],
  "Pontevedra":["cor_pon","pon_lug","pon_our","pon_c"],
  "Ourense":["lug_our","leo_our","our_zam","our_s","pon_our"],
  "León":["ast_leo","lug_leo","leo_our","leo_zam","leo_val","leo_pal","leo_can"],
  "Cantabria":["can_c","can_biz","can_bur","pal_can","leo_can","ast_can"],
  "Palencia":["val_pal","pal_bur","pal_can","leo_pal"],
  "Zamora":["zam_val","zam_sal","zam_w","our_zam","leo_zam"],
  "Valladolid":["val_pal","val_bur","seg_val","avi_val","sal_val","zam_val","leo_val"],
  "Salamanca":["sal_w","sal_cac","sal_avi","sal_val","zam_sal"],
  "Bizkaia":["biz_c","biz_gip","biz_ala","bur_biz","can_biz"],
  "Gipuzkoa":["biz_gip","gip_ala","gip_nav","gip_c"],
  "Álava":["biz_ala","gip_ala","ala_nav","ala_rio","bur_ala"],
  "Navarra":["gip_nav","nav_n","nav_hue","nav_zar","nav_rio","ala_nav"],
  "Burgos":["can_bur","bur_biz","bur_ala","bur_rio","bur_sor","seg_bur","val_bur","pal_bur"],
  "La Rioja":["ala_rio","bur_rio","rio_sor","nav_rio"],
  "Huesca":["nav_hue","hue_zar","hue_lle","hue_n"],
  "Soria":["rio_sor","sor_zar","sor_gua","seg_sor","bur_sor"],
  "Zaragoza":["nav_zar","sor_zar","gua_zar","ter_zar","zar_tar","zar_lle","hue_zar"],
  "Segovia":["seg_bur","seg_sor","seg_gua","mad_seg","avi_seg","seg_val"],
  "Guadalajara":["mad_gua","gua_cue","gua_ter","gua_zar","sor_gua","seg_gua"],
  "Teruel":["gua_ter","ter_zar","ter_tar","ter_cas","ter_val","cue_ter"],
  "Lleida":["hue_lle","lle_n","lle_gir","lle_bar","lle_tar","zar_lle"],
  "Girona":["lle_gir","gir_c","gir_bar"],
  "Barcelona":["gir_bar","bar_c","bar_tar","lle_bar"],
  "Tarragona":["lle_tar","zar_tar","ter_tar","tar_cas","tar_c","bar_tar"],
  "Castellón":["tar_cas","cas_c","cas_val","ter_cas"],
  "Ávila":["sal_avi","avi_val","avi_seg","avi_mad","avi_tol","avi_cac"],
  "Madrid":["mad_seg","avi_mad","mad_tol","mad_cue","mad_gua"],
  "Cáceres":["sal_cac","avi_cac","cac_tol","cac_bad","cac_w"],
  "Toledo":["mad_tol","tol_cue","tol_cr","tol_bad","cac_tol","avi_tol"],
  "Cuenca":["gua_cue","cue_ter","cue_val","cue_alb","cr_cue","tol_cue","mad_cue"],
  "Valencia":["cue_val","val_alb","val_ali","val_c","cas_val","ter_val"],
  "Ciudad Real":["tol_cr","bad_cr","cr_cor","cr_jae","cr_alb","cr_cue"],
  "Albacete":["cue_alb","cr_alb","jae_alb","alb_gra","alb_mur","ali_alb","val_alb"],
  "Badajoz":["cac_bad","tol_bad","bad_cr","bad_cor","bad_sev","bad_hue","bad_w"],
  "Alicante":["val_ali","ali_c","ali_mur","ali_alb"],
  "Córdoba":["cr_cor","cor_jae","cor_gra","cor_mal","sev_cor","bad_cor"],
  "Jaén":["cr_jae","jae_alb","jae_gra","cor_jae"],
  "Murcia":["alb_mur","ali_mur","mur_c","mur_alm","gra_mur"],
  "Huelva":["bad_hue","hue_c","hue_cad","hue_sev"],
  "Sevilla":["bad_sev","hue_sev","sev_cad","sev_mal","sev_cor"],
  "Granada":["jae_gra","alb_gra","gra_mur","gra_alm","gra_c","mal_gra","cor_gra"],
  "Almería":["mur_alm","alm_c","gra_alm"],
  "Málaga":["sev_mal","cor_mal","mal_gra","mal_c","mal_cad"],
  "Cádiz":["sev_cad","mal_cad","cad_c","hue_cad"]
};

// islands and detached pieces, lon/lat
const islands = {
  "Baleares":[
    [[2.40,39.58],[2.54,39.66],[2.66,39.72],[2.75,39.80],[2.91,39.88],[3.08,39.93],[3.15,39.85],[3.23,39.87],[3.20,39.83],[3.25,39.74],[3.40,39.77],[3.51,39.72],[3.47,39.62],[3.37,39.53],[3.30,39.38],[3.12,39.27],[3.02,39.37],[2.80,39.39],[2.80,39.49],[2.68,39.57],[2.58,39.53],[2.54,39.46],[2.53,39.53]],
    [[3.86,40.03],[3.99,40.04],[4.20,40.04],[4.30,39.96],[4.36,39.81],[4.25,39.83],[4.08,39.92],[3.89,39.93]],
    [[1.27,38.95],[1.34,38.97],[1.36,39.04],[1.55,39.10],[1.65,39.04],[1.56,38.95],[1.48,38.91],[1.43,38.84],[1.31,38.87],[1.27,38.89]],
    [[1.44,38.72],[1.50,38.73],[1.55,38.68],[1.61,38.66],[1.51,38.66],[1.44,38.65]],
    [[2.97,39.14],[3.01,39.14],[3.00,39.12]]
  ],
  "Ceuta":[[[-5.07,36.20],[-5.03,36.18],[-5.01,36.16],[-5.05,36.16]]],
  "Melilla":[[[-3.43,36.09],[-3.41,36.07],[-3.43,36.05],[-3.45,36.07]]],
  "Tarragona":[[[0.65,40.57],[0.73,40.59],[0.70,40.56]]],
  "Girona":[[[2.01,42.49],[2.03,42.49],[2.03,42.46],[2.01,42.46]]]
};
const canaryIslands = {
  "Santa Cruz de Tenerife":[
    [[-17.93,28.85],[-17.79,28.84],[-17.75,28.76],[-17.79,28.65],[-17.79,28.59],[-17.87,28.49],[-17.93,28.59],[-18.01,28.76],[-18.00,28.82]],
    [[-17.31,28.23],[-17.23,28.20],[-17.14,28.15],[-17.19,28.08],[-17.29,28.07],[-17.36,28.13],[-17.35,28.20]],
    [[-16.95,28.38],[-16.78,28.39],[-16.59,28.42],[-16.47,28.52],[-16.37,28.58],[-16.19,28.59],[-16.19,28.55],[-16.32,28.50],[-16.42,28.39],[-16.42,28.31],[-16.49,28.22],[-16.50,28.15],[-16.60,28.07],[-16.72,28.05],[-16.78,28.11],[-16.86,28.24]],
    [[-18.16,27.79],[-18.07,27.79],[-17.98,27.86],[-17.91,27.86],[-17.95,27.77],[-18.00,27.69],[-18.07,27.74],[-18.15,27.75]]
  ],
  "Las Palmas":[
    [[-15.63,28.18],[-15.53,28.17],[-15.38,28.15],[-15.35,28.05],[-15.33,27.97],[-15.37,27.85],[-15.53,27.78],[-15.65,27.80],[-15.75,27.91],[-15.76,28.03],[-15.65,28.09]],
    [[-13.95,28.75],[-13.84,28.75],[-13.82,28.61],[-13.84,28.41],[-13.92,28.27],[-14.17,28.21],[-14.30,28.09],[-14.45,28.12],[-14.35,28.13],[-14.18,28.24],[-14.17,28.35],[-14.08,28.48],[-13.99,28.61],[-13.97,28.71]],
    [[-13.85,28.88],[-13.79,28.94],[-13.80,29.02],[-13.74,29.08],[-13.57,29.13],[-13.48,29.13],[-13.48,29.21],[-13.42,29.21],[-13.43,29.16],[-13.46,29.03],[-13.59,28.95],[-13.74,28.93],[-13.76,28.87]],
    [[-13.50,29.24],[-13.48,29.27],[-13.47,29.24]]
  ]
};
// pieces that sit inside a neighbour, drawn last with their own outline
const enclaves = [
  {name:"Burgos", ring:[[-2.93,42.78],[-2.61,42.79],[-2.51,42.73],[-2.47,42.66],[-2.64,42.67],[-2.78,42.68],[-2.91,42.70]]},
  {name:"Toledo", ring:[[-4.92,39.40],[-4.85,39.55],[-4.74,39.48],[-4.74,39.43],[-4.85,39.38]]},
  {name:"Valencia", ring:[[-1.42,40.13],[-1.27,40.21],[-1.22,40.12],[-1.05,40.06],[-1.15,40.01],[-1.29,40.00],[-1.39,40.09]]},
  {name:"Zaragoza", ring:[[-1.10,42.47],[-1.05,42.50],[-1.02,42.45],[-1.09,42.44]]}
];

// where each label block is centred, lon/lat of the map it belongs to
const labelAt = {"La Coruña":[-8.54,43.21],"Lugo":[-7.43,43.23],"Asturias":[-6.19,43.45],"Pontevedra":[-8.77,42.43],"Ourense":[-7.57,42.31],"León":[-5.83,42.70],"Cantabria":[-4.13,43.33],"Palencia":[-4.55,42.29],"Zamora":[-5.80,41.79],"Valladolid":[-4.84,41.66],"Salamanca":[-6.06,40.91],"Bizkaia":[-2.79,43.52],"Gipuzkoa":[-2.05,43.24],"Álava":[-2.67,42.97],"Navarra":[-1.71,42.77],"Burgos":[-3.60,42.55],"La Rioja":[-2.57,42.42],"Huesca":[0.00,42.30],"Soria":[-2.60,41.74],"Zaragoza":[-1.18,41.68],"Segovia":[-4.13,41.29],"Guadalajara":[-2.74,40.92],"Teruel":[-0.86,40.77],"Lleida":[1.12,42.19],"Girona":[2.89,42.24],"Barcelona":[2.04,41.77],"Tarragona":[0.95,41.21],"Castellón":[0.10,40.34],"Baleares":[2.14,39.38],"Ávila":[-4.88,40.75],"Madrid":[-3.78,40.64],"Cáceres":[-6.22,39.80],"Toledo":[-4.23,39.94],"Cuenca":[-2.22,40.10],"Valencia":[-0.73,39.39],"Ciudad Real":[-3.89,38.93],"Albacete":[-1.98,38.91],"Badajoz":[-6.22,38.63],"Alicante":[-0.56,38.53],"Córdoba":[-4.83,38.23],"Jaén":[-3.48,38.10],"Murcia":[-1.46,38.04],"Huelva":[-6.93,37.68],"Sevilla":[-5.80,37.56],"Granada":[-3.44,37.30],"Almería":[-2.22,37.29],"Málaga":[-4.65,37.00],"Cádiz":[-5.83,36.62]};
const canaryLabelAt = {"Las Palmas":[-14.82,28.865],"Santa Cruz de Tenerife":[-17.156,28.01]};
const markerAt = {"Ceuta":[-4.99,35.78],"Melilla":[-3.49,35.78]};

const W = 3840, H = 2436;

const x = d3.scaleLinear().domain([-9.3,4.7]).range([1030,1030+14*189]);
const y = d3.scaleLinear().domain([43.79,35.79]).range([355,355+8*189]);
const cx = d3.scaleLinear().domain([-18.16,-13.16]).range([226,226+5*155]);
const cy = d3.scaleLinear().domain([29.40,27.40]).range([2017,2017+2*155]);

const colour = d3.scaleThreshold().domain(rhoBreaks).range(legendColors.slice().reverse());
// d3 writes a typographic minus, the original has a plain hyphen
const fmt = function(v){ return d3.format("+.2f")(v).replace("\u2212","-"); };

function planar(fx, fy){
  return d3.geoPath(d3.geoTransform({point:function(a,b){this.stream.point(fx(a),fy(b));}}));
}
const path = planar(x,y), canaryPath = planar(cx,cy);

function dist(a,b){ return Math.hypot(a[0]-b[0],a[1]-b[1]); }

// join the borders end to end, flipping any that runs the other way
function stitch(list){
  const out = [];
  list.forEach(function(n,i){
    let a = arcs[n];
    if(i===0){
      const nx = arcs[list[1]];
      const d0 = Math.min(dist(a[0],nx[0]),dist(a[0],nx[nx.length-1]));
      const d1 = Math.min(dist(a[a.length-1],nx[0]),dist(a[a.length-1],nx[nx.length-1]));
      if(d0<d1) a = a.slice().reverse();
    } else {
      const last = out[out.length-1];
      if(dist(a[a.length-1],last)<dist(a[0],last)) a = a.slice().reverse();
    }
    a.forEach(function(p){ out.push(p); });
  });
  out.push(out[0]);
  return out;
}
function closed(r){ return r.concat([r[0]]); }

const rhoOf = {}; names.forEach(function(n,i){ rhoOf[n]=rhoRel[i]; });

const mainFeatures = names.filter(function(n){ return rings[n]||islands[n]; }).map(function(n){
  const polys = (rings[n] ? [[stitch(rings[n])]] : []).concat((islands[n]||[]).map(function(r){ return [closed(r)]; }));
  return {type:"Feature",properties:{name:n},geometry:{type:"MultiPolygon",coordinates:polys}};
});
const canaryFeatures = Object.keys(canaryIslands).map(function(n){
  return {type:"Feature",properties:{name:n},geometry:{type:"MultiPolygon",coordinates:canaryIslands[n].map(function(r){ return [closed(r)]; })}};
});
const enclaveFeatures = enclaves.map(function(e){
  return {type:"Feature",properties:{name:e.name},geometry:{type:"Polygon",coordinates:[closed(e.ring)]}};
});

const svg = d3.select("#chart").append("svg").attr("width",W).attr("height",H).attr("viewBox","0 0 "+W+" "+H);
svg.append("rect").attr("width",W).attr("height",H).attr("fill","#fff");

// map
const gMap = svg.append("g");
gMap.selectAll("path.prov").data(mainFeatures).enter().append("path").attr("class","prov")
  .attr("d",path).attr("fill",function(d){ return colour(rhoOf[d.properties.name]); })
  .attr("stroke","#fff").attr("stroke-width",2.2).attr("stroke-linejoin","round");
gMap.selectAll("path.encl").data(enclaveFeatures).enter().append("path").attr("class","encl")
  .attr("d",path).attr("fill",function(d){ return colour(rhoOf[d.properties.name]); })
  .attr("stroke","#fff").attr("stroke-width",2).attr("stroke-linejoin","round");
gMap.selectAll("path.can").data(canaryFeatures).enter().append("path").attr("class","can")
  .attr("d",canaryPath).attr("fill",function(d){ return colour(rhoOf[d.properties.name]); });

// Ceuta and Melilla markers
Object.keys(markerAt).forEach(function(n){
  gMap.append("circle").attr("cx",x(markerAt[n][0])).attr("cy",y(markerAt[n][1])).attr("r",12.8).attr("fill",colour(rhoOf[n]));
});

function rhoText(sel, px, py, size, value, fill){
  const t = sel.append("text").attr("x",px).attr("y",py).attr("text-anchor","middle").attr("font-size",size).attr("fill",fill);
  t.append("tspan").attr("font-style","italic").text("ρ");
  t.append("tspan").attr("font-style","italic").attr("font-size",size*0.7).attr("dy",size*0.18).text("rel");
  t.append("tspan").attr("dy",-size*0.18).text(": "+fmt(value));
}

function labelBlock(n, px, py, nameSize, infoSize, off1, off2){
  const i = names.indexOf(n);
  gMap.append("text").attr("x",px).attr("y",py+nameSize*0.36).attr("text-anchor","middle")
    .attr("font-size",nameSize).attr("font-weight","bold").attr("fill","#111").text(n);
  gMap.append("text").attr("x",px).attr("y",py+off1).attr("text-anchor","middle")
    .attr("font-size",infoSize).attr("fill","#333").text("Empresas: "+empresas[i]);
  rhoText(gMap,px,py+off2,infoSize,rhoRel[i],"#333");
}

Object.keys(labelAt).forEach(function(n){
  labelBlock(n,x(labelAt[n][0]),y(labelAt[n][1]),20.4,17,34,52);
});
Object.keys(canaryLabelAt).forEach(function(n){
  labelBlock(n,cx(canaryLabelAt[n][0]),cy(canaryLabelAt[n][1]),20.4,17,34,52);
});
Object.keys(markerAt).forEach(function(n){
  labelBlock(n,x(markerAt[n][0]),y(markerAt[n][1])+41,17.5,15,34,52);
});

// title block
svg.append("text").attr("x",1861).attr("y",89).attr("text-anchor","middle")
  .attr("font-size",45.8).attr("font-weight","bold").attr("fill","#000")
  .text("Distribucion geografica ponderada por densidad - Cluster: 8197");

function noteLine(py, before, after){
  const t = svg.append("text").attr("x",1861).attr("y",py).attr("text-anchor","middle")
    .attr("font-size",22.8).attr("font-style","italic").attr("fill","#000");
  if(before) t.append("tspan").text(before);
  t.append("tspan").text("ρ");
  t.append("tspan").attr("font-size",16).attr("dy",4).text("rel");
  t.append("tspan").attr("dy",-4).text(after);
}
noteLine(174,"",": Densidad relativa respecto a la media nacional. Ej: +0.10 significa un 10% de sobreponderación.");
noteLine(203,"(Si una provincia tiene 50 empresas con "," +0.10, tiene un exceso de 5 empresas respecto a su cuota esperada).");

// side panel
const panelX = 160;
function panel(py, txt, size, opts){
  opts = opts||{};
  svg.append("text").attr("x",panelX).attr("y",py).attr("font-size",size)
    .attr("font-weight",opts.bold?"bold":"normal").attr("font-style",opts.italic?"italic":"normal")
    .attr("fill",opts.fill||"#000").text(txt);
}
panel(408,clusterTitle,32.9,{bold:true});
clusterLead.forEach(function(s,i){ panel(480+i*30.8,s,27.8); });
panel(704,totalLine,30.3,{bold:true});
svg.append("line").attr("x1",158).attr("x2",763).attr("y1",732).attr("y2",732).attr("stroke","#999").attr("stroke-width",2);
panel(807,topHeader,25.1);
topEmpresas.forEach(function(s,i){ panel(863+i*43,s,22.9,{italic:true}); });
panel(1047,"Principales keywords",25,{bold:true});
keywordLines.forEach(function(s,i){ panel(1088+i*26,s,22.85); });
panel(1357,"Descripción del cluster",25,{bold:true});
descLines.forEach(function(s,i){ panel(1396+i*26.1,s,22.8,{fill:"#555"}); });

// legend
const legX = 3225;
svg.append("text").attr("x",legX).attr("y",1992).attr("font-size",27.2).attr("fill","#000").text("Referencias de colores");
const legY = d3.scalePoint().domain(legendLabels).range([2052,2281]);
const leg = svg.selectAll("g.leg").data(legendLabels).enter().append("g").attr("class","leg")
  .attr("transform",function(d){ return "translate("+legX+","+legY(d)+")"; });
leg.append("rect").attr("x",0).attr("y",-7.5).attr("width",49).attr("height",15).attr("fill",function(d,i){ return legendColors[i]; });
leg.append("text").attr("x",71).attr("y",8.5).attr("font-size",25.3).attr("fill","#000").text(function(d){ return d; });
</script>
</body>
</html>
